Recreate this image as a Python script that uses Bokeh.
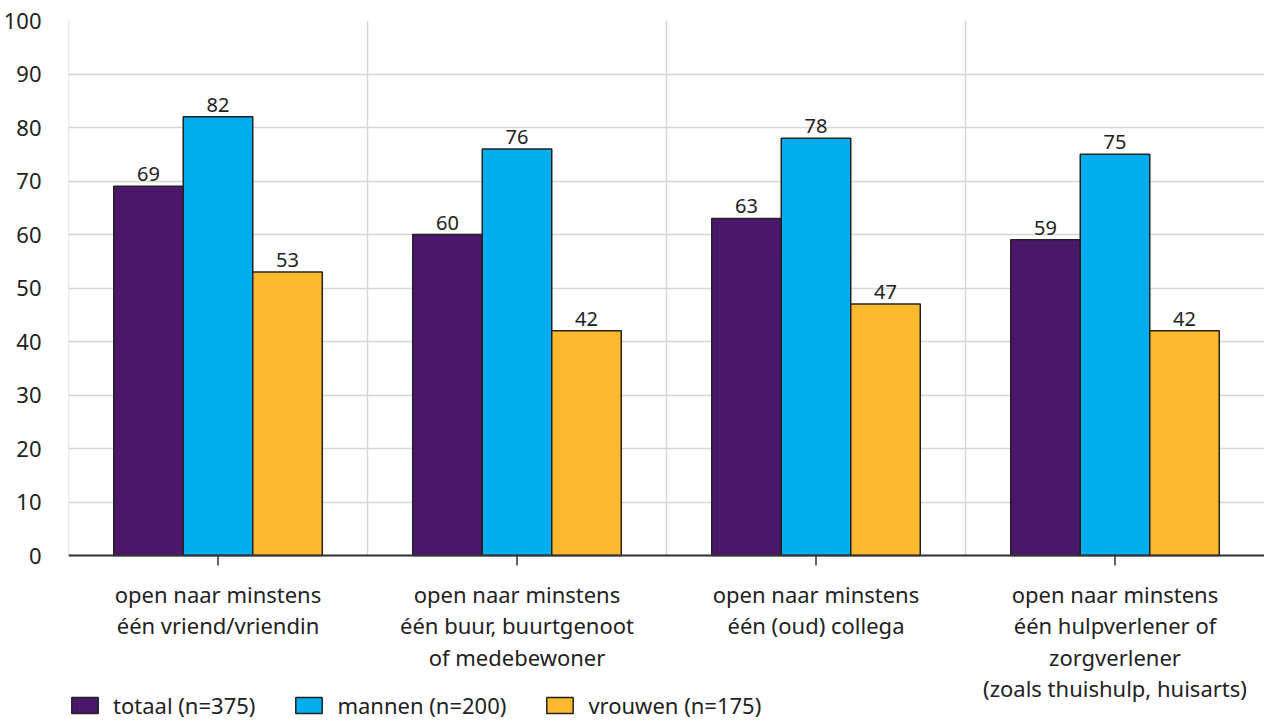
import math
from bokeh.plotting import figure
from bokeh.models import ColumnDataSource, Range1d, FixedTicker, Legend, LegendItem, Span
from bokeh.core.properties import value
from bokeh.embed import file_html
from bokeh.resources import INLINE

categories = [
    "open naar minstens\néén vriend/vriendin",
    "open naar minstens\néén buur, buurtgenoot\nof medebewoner",
    "open naar minstens\néén (oud) collega",
    "open naar minstens\néén hulpverlener of\nzorgverlener\n(zoals thuishulp, huisarts)",
]
series_names = ["totaal (n=375)", "mannen (n=200)", "vrouwen (n=175)"]
totaal = [69, 60, 63, 59]
mannen = [82, 76, 78, 75]
vrouwen = [53, 42, 47, 42]
colors = ["#4B176B", "#00AEEF", "#FDB92E"]
y_ticks = [0, 10, 20, 30, 40, 50, 60, 70, 80, 90, 100]

FONT = "Noto Sans"
TXT = "#222222"
GRID = "#d6d6d6"

# frame covers the label/legend area below zero too (100 units = 535 px)
p = figure(width=1264, height=720, output_backend="svg", toolbar_location=None,
           x_range=Range1d(0, len(categories)), y_range=Range1d(-30.84, 100),
           min_border_left=60, min_border_right=0, min_border_top=20, min_border_bottom=0)
p.outline_line_color = None
p.background_fill_color = "white"
p.xaxis.visible = False
p.xgrid.visible = False

# horizontal grid
p.ygrid.ticker = FixedTicker(ticks=y_ticks)
p.ygrid.grid_line_color = GRID
p.ygrid.grid_line_width = 1.5

# vertical separators between categories (only over the 0-100 area)
bounds = list(range(len(categories)))
p.segment(x0=bounds, y0=[0] * len(bounds), x1=bounds, y1=[100] * len(bounds),
          line_color=GRID, line_width=1.5)

bw = 0.2325
centers = [i + 0.5 for i in range(len(categories))]
renderers = []
for k, (vals, col) in enumerate(zip([totaal, mannen, vrouwen], colors)):
    xs = [c + (k - 1) * bw for c in centers]
    src = ColumnDataSource(dict(x=xs, top=vals, lab=[str(v) for v in vals]))
    r = p.vbar(x="x", top="top", width=bw, bottom=0, source=src, fill_color=col,
               line_color="#222222", line_width=1.5)
    renderers.append(r)
    p.text(x="x", y="top", text="lab", source=src, text_align="center", text_baseline="bottom",
           y_offset=-5, text_font=value(FONT), text_font_size="20px", text_color=TXT)

# x axis line and ticks
p.add_layout(Span(location=0, dimension="width", line_color="#333333", line_width=2))
p.ray(x=centers, y=[0] * len(centers), length=10, length_units="screen",
      angle=-math.pi / 2, line_color="#333333", line_width=1.5)

# category labels
p.text(x=centers, y=[0] * len(centers), text=categories, text_align="center",
       text_baseline="top", y_offset=23, text_font=value(FONT), text_font_size="22px",
       text_color=TXT, text_line_height=1.05)

# y axis
p.yaxis.ticker = FixedTicker(ticks=y_ticks)
p.yaxis.axis_line_color = None
p.yaxis.major_tick_line_color = None
p.yaxis.minor_tick_line_color = None
p.yaxis.major_label_standoff = 21
p.yaxis.major_label_text_font = FONT
p.yaxis.major_label_text_font_size = "22px"
p.yaxis.major_label_text_color = TXT

legend = Legend(items=[LegendItem(label=n, renderers=[r]) for n, r in zip(series_names, renderers)],
                orientation="horizontal", location=(0, 0),
                glyph_width=33, glyph_height=20, label_standoff=12, spacing=37,
                padding=0, margin=0, border_line_color=None, background_fill_alpha=0,
                label_text_font=FONT, label_text_font_size="22px", label_text_color=TXT)
p.add_layout(legend, "center")

open("out.html", "w").write(file_html(p, INLINE))
